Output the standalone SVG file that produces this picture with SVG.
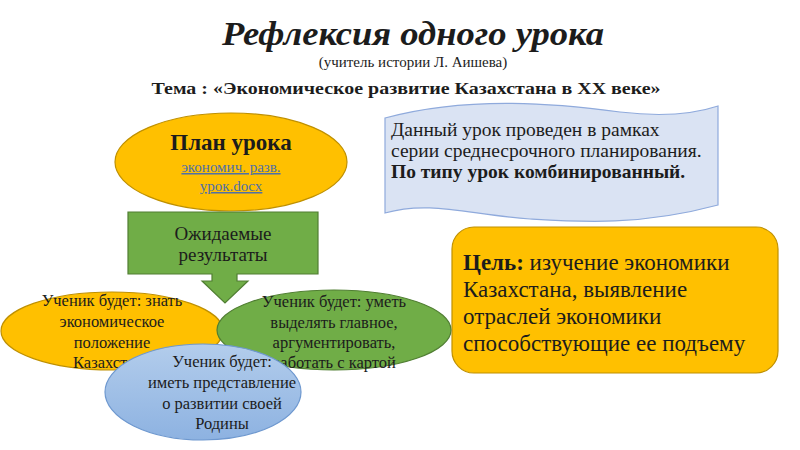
<svg xmlns="http://www.w3.org/2000/svg" width="800" height="450" viewBox="0 0 800 450">
<defs>
<linearGradient id="blueGrad" x1="0" y1="0" x2="0" y2="1">
<stop offset="0" stop-color="#B3CDEC"/>
<stop offset="1" stop-color="#8DB2E1"/>
</linearGradient>
<style>
text{font-family:'Liberation Serif','Times New Roman',serif;fill:#1c1c1c;}
.c{text-anchor:middle;}
.node-y{fill:#FFC000;stroke:#BF9000;stroke-width:1.2;}
.node-g{fill:#70AD47;stroke:#507E32;stroke-width:1.2;}
.node-b{fill:url(#blueGrad);stroke:#6E98CF;stroke-width:1.2;}
.wave{fill:#DAE3F3;stroke:#8FAADC;stroke-width:1.2;}
.t14{font-size:16.5px;}
.t15{font-size:19.5px;}
.t19{font-size:23px;}
.link{font-size:15px;fill:#4E6FA8;text-decoration:underline;}
</style>
</defs>
<rect width="800" height="450" fill="#FFFFFF"/>

<g id="title">
<text x="413" y="45" class="c" font-size="33" font-weight="bold" font-style="italic" textLength="382" lengthAdjust="spacingAndGlyphs">Рефлексия  одного урока</text>
<text x="413" y="67" class="c" font-size="15">(учитель истории Л. Аишева)</text>
<text x="406" y="94" class="c" font-size="17.5" font-weight="bold" textLength="509" lengthAdjust="spacingAndGlyphs">Тема : «Экономическое развитие Казахстана в XX веке»</text>
</g>

<g id="plan">
<ellipse cx="231" cy="162" rx="116" ry="49" class="node-y"/>
<text x="231" y="150" class="c" font-size="23" font-weight="bold">План урока</text>
<text x="231" y="172" class="c link">экономич. разв.</text>
<text x="231" y="191" class="c link">урок.docx</text>
</g>

<g id="info">
<path class="wave" d="M385,118 C470,95 560,104 620,112 C670,118 700,112 718,106 L718,205 C640,226 580,222 530,219 C470,215 430,200 385,213 Z"/>
<text x="391" y="136" class="t15">Данный урок проведен в рамках</text>
<text x="391" y="157" class="t15">серии среднесрочного планирования.</text>
<text x="391" y="178" class="t15" font-weight="bold">По типу урок комбинированный.</text>
</g>

<g id="expected">
<path class="node-g" d="M128,212 H318 V274 H237 V281 H248 L225,303 L202,281 H212 V274 H128 Z" stroke="none"/>
<text x="223" y="240" class="c" font-size="19">Ожидаемые</text>
<text x="223" y="261" class="c" font-size="19">результаты</text>
</g>

<g id="goal">
<rect x="452" y="227" width="326" height="146" rx="22" class="node-y"/>
<text x="463" y="270" class="t19"><tspan font-weight="bold">Цель:</tspan> изучение экономики</text>
<text x="463" y="297" class="t19">Казахстана, выявление</text>
<text x="463" y="324" class="t19">отраслей экономики</text>
<text x="463" y="351" class="t19">способствующие ее подъему</text>
</g>

<g id="know">
<ellipse cx="112" cy="331" rx="111" ry="39" class="node-y"/>
<text x="112" y="306" class="c t14">Ученик будет: знать</text>
<text x="112" y="327" class="c t14">экономическое</text>
<text x="112" y="348" class="c t14">положение</text>
<text x="112" y="368" class="c t14">Казахстана</text>
</g>

<g id="skill">
<ellipse cx="334" cy="330" rx="117" ry="40" class="node-g"/>
<text x="334" y="307" class="c t14">Ученик будет: уметь</text>
<text x="334" y="328" class="c t14">выделять главное,</text>
<text x="334" y="348" class="c t14">аргументировать,</text>
<text x="334" y="368" class="c t14">работать с картой</text>
</g>

<g id="idea">
<ellipse cx="203" cy="392" rx="98" ry="48" class="node-b"/>
<text x="222" y="367" class="c t14">Ученик будет:</text>
<text x="222" y="388" class="c t14">иметь представление</text>
<text x="222" y="409" class="c t14">о развитии своей</text>
<text x="222" y="429" class="c t14">Родины</text>
</g>

<g id="connectors"></g>
</svg>
